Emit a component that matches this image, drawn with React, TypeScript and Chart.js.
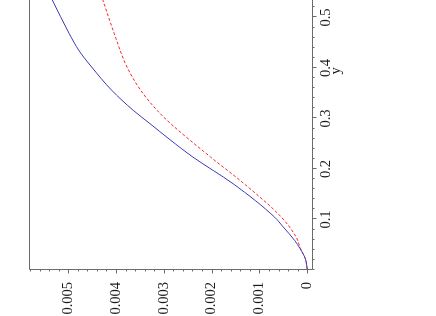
import React, { useEffect, useRef } from 'react';
import { Chart, registerables } from 'chart.js';

Chart.register(...registerables);

// "y" variable samples and function values (blue solid curve)
const blueY = [0.002, 0.0226, 0.0424, 0.0583, 0.0861, 0.1045, 0.1708, 0.2235, 0.258, 0.2898, 0.3162, 0.3559, 0.402, 0.4338, 0.4683, 0.536];
const blueV = [0, 0.00004, 0.00015, 0.00026, 0.00051, 0.00068, 0.00155, 0.00239, 0.00287, 0.00329, 0.00364, 0.00409, 0.00451, 0.00477, 0.00498, 0.00534];

// red dashed curve
const redY = [0.002, 0.0226, 0.0424, 0.0649, 0.1045, 0.1708, 0.2235, 0.291, 0.3161, 0.3554, 0.402, 0.4689, 0.536];
const redV = [0, 0.00004, 0.00014, 0.00023, 0.00054, 0.00132, 0.00202, 0.00287, 0.00314, 0.00348, 0.00377, 0.00404, 0.00428];

// tick labels
const valueTicks = [0, 0.001, 0.002, 0.003, 0.004, 0.005];
const valueTickLabels = ['0', '0.001', '0.002', '0.003', '0.004', '0.005'];
const yTicks = [0.1, 0.2, 0.3, 0.4, 0.5, 0.6, 0.7];
const yTickLabels = ['0.1', '0.2', '0.3', '0.4', '0.5', '0.6', '0.7'];
const axisTitle = 'y';

const Y_MIN = 0;
const Y_MAX = 0.788;
const V_MIN = -0.0001;
const V_MAX = 0.00582;
const Y_MINOR = 0.02;
const V_MINOR = 0.0002;

const AXIS_COLOR = '#6a6a6a';
const TEXT_COLOR = '#1a1a1a';
const FONT = { family: "'Liberation Serif', 'Times New Roman', serif", size: 14.5 };

const isIn = (list: number[], v: number) => list.findIndex((t) => Math.abs(t - v) < 1e-9);

const axesPlugin = {
  id: 'mapleAxes',
  afterDraw(chart: any) {
    const { ctx, chartArea: a, scales } = chart;
    const xs = scales.x;
    const ys = scales.y;
    ctx.save();
    ctx.strokeStyle = AXIS_COLOR;
    ctx.lineWidth = 1;
    ctx.beginPath();
    ctx.rect(Math.round(a.left) + 0.5, Math.round(a.top) + 0.5, Math.round(a.right - a.left), Math.round(a.bottom - a.top));
    for (const t of xs.ticks) {
      const p = Math.round(xs.getPixelForValue(t.value)) + 0.5;
      const len = isIn(yTicks, t.value) >= 0 ? 4 : 2;
      ctx.moveTo(p, Math.round(a.bottom) + 0.5);
      ctx.lineTo(p, Math.round(a.bottom) + 0.5 + len);
    }
    for (const t of ys.ticks) {
      const p = Math.round(ys.getPixelForValue(t.value)) + 0.5;
      const len = isIn(valueTicks, t.value) >= 0 ? 4 : 2;
      ctx.moveTo(Math.round(a.left) + 0.5, p);
      ctx.lineTo(Math.round(a.left) + 0.5 - len, p);
    }
    ctx.stroke();
    ctx.restore();
  },
};

export default function App() {
  const ref = useRef<HTMLCanvasElement>(null);

  useEffect(() => {
    const blue = blueY.map((y, i) => ({ x: y, y: blueV[i] }));
    const red = redY.map((y, i) => ({ x: y, y: redV[i] }));
    const chart = new Chart(ref.current as HTMLCanvasElement, {
      type: 'scatter',
      data: {
        datasets: [
          {
            data: blue,
            showLine: true,
            borderColor: '#3a3ab8',
            borderWidth: 1,
            pointRadius: 0,
            cubicInterpolationMode: 'monotone',
          },
          {
            data: red,
            showLine: true,
            borderColor: '#f02a2a',
            borderWidth: 1,
            borderDash: [3, 2],
            pointRadius: 0,
            cubicInterpolationMode: 'monotone',
          },
        ],
      },
      options: {
        responsive: false,
        animation: false,
        devicePixelRatio: 1,
        layout: { padding: { left: 0, top: 29, right: 16, bottom: 0 } },
        plugins: { legend: { display: false }, tooltip: { enabled: false } },
        scales: {
          x: {
            type: 'linear',
            min: Y_MIN,
            max: Y_MAX,
            grid: { display: false, drawTicks: false },
            border: { display: false },
            afterBuildTicks: (scale: any) => {
              const t: any[] = [];
              for (let i = 0; i * Y_MINOR <= Y_MAX + 1e-9; i++) t.push({ value: +(i * Y_MINOR).toFixed(4) });
              scale.ticks = t;
            },
            afterFit: (scale: any) => {
              scale.height = 124;
            },
            ticks: {
              autoSkip: false,
              maxRotation: 0,
              minRotation: 0,
              padding: 5,
              color: TEXT_COLOR,
              font: FONT,
              callback: (value: any) => {
                const i = isIn(yTicks, Number(value));
                return i >= 0 ? yTickLabels[i] : '';
              },
            },
            title: {
              display: true,
              text: axisTitle,
              color: TEXT_COLOR,
              font: FONT,
              padding: { top: 0, bottom: 91 },
            },
          },
          y: {
            type: 'linear',
            min: V_MIN,
            max: V_MAX,
            grid: { display: false, drawTicks: false },
            border: { display: false },
            afterBuildTicks: (scale: any) => {
              const t: any[] = [];
              for (let i = 0; i * V_MINOR <= V_MAX + 1e-12; i++) t.push({ value: +(i * V_MINOR).toFixed(6) });
              scale.ticks = t;
            },
            afterFit: (scale: any) => {
              scale.width = 46;
            },
            ticks: {
              autoSkip: false,
              padding: 12,
              color: TEXT_COLOR,
              font: FONT,
              callback: (value: any) => {
                const i = isIn(valueTicks, Number(value));
                return i >= 0 ? valueTickLabels[i] : '';
              },
            },
          },
        },
      },
      plugins: [axesPlugin],
    } as any);
    return () => chart.destroy();
  }, []);

  return (
    <div
      style={{
        position: 'absolute',
        left: 0,
        top: 0,
        width: 436,
        height: 316,
        overflow: 'hidden',
        background: '#fff',
      }}
    >
      <canvas
        ref={ref}
        width={460}
        height={436}
        style={{
          position: 'absolute',
          left: 0,
          top: 0,
          width: 460,
          height: 436,
          transformOrigin: '0 0',
          transform: 'translate(0px, 316px) rotate(-90deg)',
        }}
      />
    </div>
  );
}
